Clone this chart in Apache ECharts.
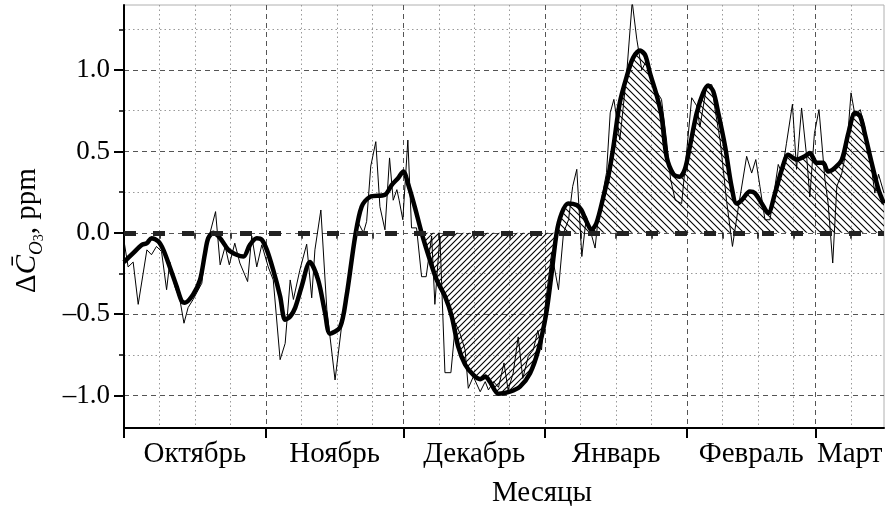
<!DOCTYPE html>
<html>
<head>
<meta charset="utf-8">
<script src="https://cdn.jsdelivr.net/npm/echarts@6/dist/echarts.min.js"></script>
<style>
html, body { margin: 0; padding: 0; background: #fff; }
#chart { width: 885px; height: 506px; }
</style>
</head>
<body>
<div id="chart"></div>
<script>
// days counted from 1 October
var monthStarts = [0, 31, 61, 92, 123, 151];
var monthMids = [15.5, 46, 76.5, 107.5, 137, 158.5];
var monthNames = ['Октябрь', 'Ноябрь', 'Декабрь', 'Январь', 'Февраль', 'Март'];
var weekTicks = [7.75, 15.5, 23.25, 38.75, 46.5, 54.25, 68.75, 76.5, 84.25,
                 99.75, 107.5, 115.25, 130.75, 138.5, 146.25, 158.75];
var yMajor = [-1, -0.5, 0, 0.5, 1];
var yMinor = [-0.75, -0.25, 0.25, 0.75, 1.25];

// daily anomaly (thin line)
var dailyDelta = [
  [0, -0.05], [0.9, -0.21], [2, -0.18], [3.1, -0.44], [5, -0.105], [6, -0.135], [7.1, -0.084],
  [8.2, -0.115], [9.3, -0.35], [10, -0.18], [11.1, -0.33], [12.2, -0.41], [13.1, -0.556],
  [14, -0.46], [15.1, -0.41], [17, -0.31], [17.7, -0.125], [18.4, -0.043], [20, 0.13],
  [21, -0.197], [22.1, -0.084], [23, -0.197], [24.2, -0.064], [25.3, -0.186], [27, -0.3],
  [27.9, -0.02], [29, -0.21], [30.1, -0.074], [31.5, -0.21], [32.6, -0.29], [34.1, -0.78],
  [35.2, -0.68], [36.3, -0.29], [37, -0.41], [38.4, -0.23], [39.9, -0.07], [41, -0.4],
  [41.7, -0.105], [43, 0.14], [44.3, -0.47], [46.1, -0.905], [47.5, -0.58], [49, -0.29],
  [50.1, -0.105], [51.2, 0.06], [52.3, 0.0], [53, 0.07], [53.9, 0.41], [55, 0.56],
  [55.9, 0.16], [57, 0.018], [58, 0.46], [58.8, 0.2], [59.6, 0.265], [60.1, 0.2],
  [60.9, 0.08], [62, 0.57], [62.8, 0.03], [63.9, 0.03], [65, -0.27], [66, -0.27],
  [67.2, -0.02], [67.9, -0.44], [69, -0.02], [70.1, -0.86], [71.4, -0.86], [72.4, -0.556],
  [73.4, -0.62], [74.5, -0.72], [75.2, -0.956], [76.3, -0.884], [77.8, -0.977], [78.9, -0.915],
  [79.6, -0.966], [80.7, -0.915], [81.8, -0.95], [83, -0.8], [83.9, -0.966], [85, -0.863],
  [86.1, -0.64], [87.1, -0.895], [88.3, -0.76], [89.4, -0.72], [90.4, -0.6], [91.2, -0.72],
  [92, -0.45], [93.4, -0.125], [94.9, -0.35], [96, 0.0], [97.1, 0.08], [98, 0.285],
  [98.9, 0.39], [100, -0.146], [101, 0.1], [102.9, -0.094], [103.6, 0.1], [105.4, 0.37],
  [106.2, 0.737], [107, 0.82], [108.3, 0.57], [109.8, 0.98], [111, 1.42], [112, 1.19],
  [113.1, 1.0], [114.2, 1.065], [115.6, 0.9], [117.4, 0.82], [118.5, 0.57], [119.4, 0.326],
  [120.4, 0.2], [121.8, 0.18], [123, 0.53], [124, 0.83], [125.1, 0.78], [125.8, 0.65],
  [127.3, 0.91], [128.4, 0.91], [129.1, 0.757], [130.2, 0.57], [131.6, 0.2], [132.9, -0.084],
  [134.1, 0.14], [136, 0.47], [137.1, 0.367], [138, 0.45], [138.9, 0.285], [140, 0.08],
  [141.1, 0.08], [142.9, 0.42], [143.7, 0.367], [144.7, 0.55], [146, 0.79], [146.9, 0.39],
  [148, 0.767], [149.1, 0.47], [149.8, 0.22], [150.8, 0.61], [151.8, 0.757], [153.1, 0.326],
  [153.8, 0.18], [154.8, -0.186], [155.7, 0.285], [156.8, 0.367], [157.9, 0.53], [158.8, 0.86],
  [159.7, 0.716], [160.8, 0.757], [161.8, 0.65], [162.9, 0.47], [164, 0.244], [164.8, 0.36],
  [166, 0.244]
];

// smoothed anomaly (thick line)
var smoothDelta = [
  [0, -0.18], [2, -0.125], [3.9, -0.074], [5, -0.064], [6, -0.033], [7.5, -0.053],
  [8.6, -0.105], [10, -0.21], [11.5, -0.33], [12.6, -0.42], [13.3, -0.43], [15.1, -0.38],
  [16.6, -0.29], [17.7, -0.125], [18.4, -0.033], [19.5, 0.0], [21, -0.033], [22.8, -0.105],
  [24.6, -0.135], [26.1, -0.146], [27.5, -0.074], [29, -0.033], [30.1, -0.043], [31.2, -0.105],
  [32.6, -0.23], [34.1, -0.39], [35.2, -0.535], [36.3, -0.515], [37.4, -0.46], [38.8, -0.33],
  [40.6, -0.18], [42.4, -0.29], [43.9, -0.49], [45, -0.62], [47.2, -0.58], [48.6, -0.39],
  [50.5, -0.02], [51.9, 0.16], [53.7, 0.22], [57, 0.234], [58.5, 0.295], [59.9, 0.337],
  [61, 0.377], [62.1, 0.295], [63.6, 0.15], [65, 0.0], [66.8, -0.166], [68.3, -0.29],
  [70.1, -0.39], [71.6, -0.515], [73, -0.7], [74.5, -0.81], [76.3, -0.874], [77.8, -0.9],
  [78.9, -0.884], [79.9, -0.915], [81.8, -0.99], [84.3, -0.977], [86.5, -0.946], [88.7, -0.863],
  [90.5, -0.72], [92.2, -0.5], [93.4, -0.25], [94.5, 0.0], [95.6, 0.12], [97, 0.18],
  [98.9, 0.17], [99.9, 0.14], [101, 0.07], [102.1, 0.018], [103.2, 0.06], [104.7, 0.22],
  [105.8, 0.35], [106.9, 0.53], [108.3, 0.8], [109.8, 0.96], [111.2, 1.075], [112.7, 1.12],
  [113.8, 1.095], [114.9, 0.98], [116.4, 0.84], [117.4, 0.72], [118.5, 0.47], [120, 0.36],
  [121.4, 0.345], [122.5, 0.39], [123.6, 0.53], [125.1, 0.737], [126.5, 0.86], [127.6, 0.905],
  [128.7, 0.87], [129.8, 0.737], [131.3, 0.53], [132.7, 0.285], [133.8, 0.18], [134.9, 0.2],
  [136.7, 0.254], [137.8, 0.244], [139.3, 0.18], [140.7, 0.12], [142.2, 0.244], [143.7, 0.39],
  [145.1, 0.48], [146.9, 0.45], [148.7, 0.47], [149.8, 0.49], [151.3, 0.43], [152.7, 0.43],
  [153.8, 0.377], [155.3, 0.4], [156.8, 0.45], [158.2, 0.61], [159.7, 0.737], [160.8, 0.716],
  [161.8, 0.61], [163.3, 0.43], [164.8, 0.265], [166, 0.18]
];

var FONT = 'Liberation Serif';

// hatch fill for the shaded periods
function hatch(dir, s) {
  var c = document.createElement('canvas');
  c.width = s; c.height = s;
  var g = c.getContext('2d');
  g.strokeStyle = '#000';
  g.lineWidth = 1.1;
  g.beginPath();
  if (dir > 0) {
    g.moveTo(-1, s + 1); g.lineTo(s + 1, -1);
    g.moveTo(-3, 3); g.lineTo(3, -3);
    g.moveTo(s - 3, s + 3); g.lineTo(s + 3, s - 3);
  } else {
    g.moveTo(-1, -1); g.lineTo(s + 1, s + 1);
    g.moveTo(s - 3, -3); g.lineTo(s + 3, 3);
    g.moveTo(-3, s - 3); g.lineTo(3, s + 3);
  }
  g.stroke();
  return c;
}

var decPart = smoothDelta.filter(function (p) { return p[0] >= 65 && p[0] <= 94.5; });
var winterPart = smoothDelta.filter(function (p) { return p[0] >= 94.5; });

function fmtY(v) {
  var s = Math.abs(v).toFixed(1);
  return v < 0 ? '\u2013' + s : s;
}

var chart = echarts.init(document.getElementById('chart'));
chart.setOption({
  animation: false,
  backgroundColor: '#fff',
  grid: {
    left: 124, right: 1, top: 5, bottom: 78, outerBoundsMode: 'none',
    show: true, borderColor: '#b0b0b0', borderWidth: 1
  },
  xAxis: [
    {
      type: 'value', min: 0, max: 166,
      name: 'Месяцы', nameLocation: 'middle', nameGap: 51,
      nameTextStyle: { fontFamily: FONT, fontSize: 29, color: '#000', padding: [0, 0, 0, 76] },
      axisLine: { onZero: false, lineStyle: { color: '#000', width: 2 } },
      axisTick: { customValues: monthStarts, length: 10, lineStyle: { color: '#000', width: 2 } },
      axisLabel: {
        customValues: monthMids, margin: 12,
        fontFamily: FONT, fontSize: 29, color: '#000',
        formatter: function (v) { return monthNames[monthMids.indexOf(v)]; }
      },
      splitLine: { show: true, lineStyle: { color: '#555', width: 1, type: [5, 4] } }
    },
    {
      type: 'value', min: 0, max: 166, position: 'bottom',
      axisLine: { show: false },
      axisTick: { customValues: weekTicks, length: 6, lineStyle: { color: '#000', width: 1.5 } },
      axisLabel: { show: false },
      splitLine: { show: true, lineStyle: { color: '#999', width: 1, type: [1.5, 3] } }
    }
  ],
  yAxis: [
    {
      type: 'value', min: -1.2, max: 1.4,
      name: '{n|\u0394}{c|C\u0304}{o|O}{t|3}{n|, ppm}',
      nameLocation: 'middle', nameRotate: 90, nameGap: 78,
      nameTextStyle: {
        fontFamily: FONT, fontSize: 29, color: '#000', padding: [0, 28, 0, 0],
        rich: {
          n: { fontFamily: FONT, fontSize: 29, lineHeight: 38, color: '#000' },
          c: { fontFamily: FONT, fontSize: 29, lineHeight: 38, fontStyle: 'italic', color: '#000' },
          o: { fontFamily: FONT, fontSize: 19, lineHeight: 21, fontStyle: 'italic', verticalAlign: 'bottom', color: '#000' },
          t: { fontFamily: FONT, fontSize: 14, lineHeight: 12, verticalAlign: 'bottom', color: '#000' }
        }
      },
      axisLine: { onZero: false, lineStyle: { color: '#000', width: 2 } },
      axisTick: { customValues: yMajor, length: 10, lineStyle: { color: '#000', width: 2 } },
      axisLabel: { customValues: yMajor, margin: 14, fontFamily: FONT, fontSize: 27, color: '#000', formatter: fmtY },
      splitLine: { show: true, lineStyle: { color: '#555', width: 1, type: [5, 4] } }
    },
    {
      type: 'value', min: -1.2, max: 1.4, position: 'left',
      axisLine: { show: false },
      axisTick: { customValues: yMinor, length: 5, lineStyle: { color: '#000', width: 1.5 } },
      axisLabel: { show: false },
      splitLine: { show: true, lineStyle: { color: '#999', width: 1, type: [1.5, 3] } }
    }
  ],
  series: [
    {
      name: 'dec', type: 'line', data: decPart, smooth: 0.3,
      showSymbol: false, silent: true, z: 2,
      lineStyle: { width: 0 },
      areaStyle: { color: { image: hatch(1, 6), repeat: 'repeat' }, opacity: 1 }
    },
    {
      name: 'winter', type: 'line', data: winterPart, smooth: 0.3,
      showSymbol: false, silent: true, z: 2,
      lineStyle: { width: 0 },
      areaStyle: { color: { image: hatch(-1, 7), repeat: 'repeat' }, opacity: 1 }
    },
    {
      name: 'daily', type: 'line', data: dailyDelta,
      showSymbol: false, silent: true, z: 3,
      lineStyle: { color: '#000', width: 1 },
      markLine: {
        silent: true, symbol: 'none', label: { show: false },
        lineStyle: { color: '#222', width: 5, type: [12, 17] },
        data: [{ yAxis: 0 }]
      }
    },
    {
      name: 'smooth', type: 'line', data: smoothDelta, smooth: 0.3,
      showSymbol: false, silent: true, z: 4,
      lineStyle: { color: '#000', width: 4.5 }
    }
  ]
});
</script>
</body>
</html>
